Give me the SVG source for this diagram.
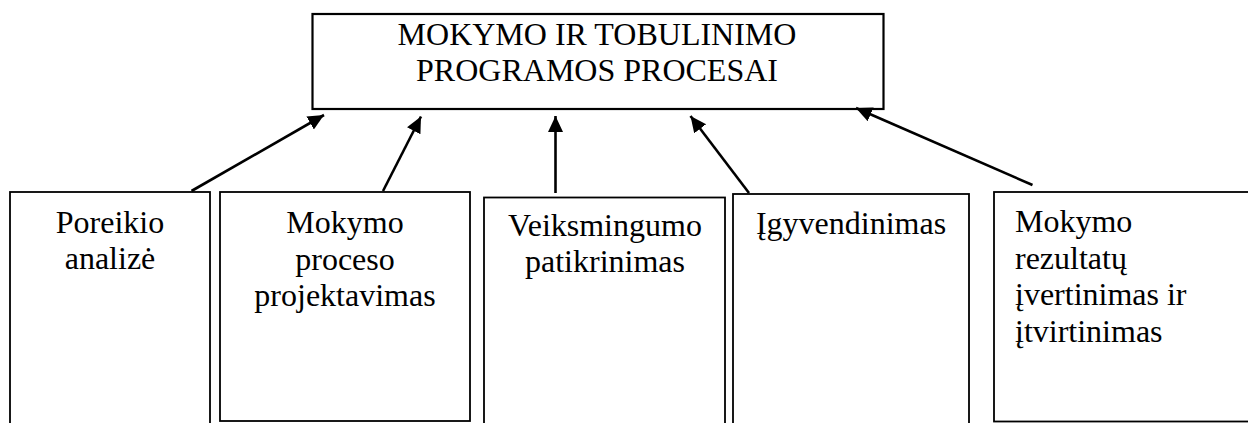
<svg xmlns="http://www.w3.org/2000/svg" width="1248" height="423" viewBox="0 0 1248 423">
<style>
  .box { fill: #ffffff; stroke: #000000; stroke-width: 2.2; }
  .sbox { fill: #ffffff; stroke: #000000; stroke-width: 1.8; }
  .t { font-family: 'Liberation Serif', 'Times New Roman', serif; font-size: 32px; fill: #000000; }
  .c { text-anchor: middle; }
  .conn { stroke: #000000; stroke-width: 2.6; fill: none; marker-end: url(#ah); }
</style>
<defs>
  <marker id="ah" markerUnits="userSpaceOnUse" markerWidth="18" markerHeight="17" refX="16" refY="7.5" orient="auto">
    <path d="M0,0 L16,7.5 L0,15 z" fill="#000000"/>
  </marker>
</defs>
<rect width="1248" height="423" fill="#ffffff"/>
<g id="top">
  <rect class="box" x="312.5" y="14" width="571" height="95"/>
  <text class="t c" x="597" y="45">MOKYMO IR TOBULINIMO</text>
  <text class="t c" x="597" y="81">PROGRAMOS PROCESAI</text>
</g>
<g id="n1">
  <rect class="sbox" x="10" y="192" width="200" height="240"/>
  <text class="t c" x="110" y="233">Poreikio</text>
  <text class="t c" x="110" y="269">analizė</text>
</g>
<g id="n2">
  <rect class="sbox" x="220" y="192" width="250" height="229"/>
  <text class="t c" x="345" y="233">Mokymo</text>
  <text class="t c" x="345" y="269.5">proceso</text>
  <text class="t c" x="345" y="306">projektavimas</text>
</g>
<g id="n3">
  <rect class="sbox" x="484" y="197.5" width="241" height="240"/>
  <text class="t c" x="605" y="236">Veiksmingumo</text>
  <text class="t c" x="605" y="272">patikrinimas</text>
</g>
<g id="n4">
  <rect class="sbox" x="733" y="194" width="236" height="240"/>
  <text class="t c" x="851" y="234">Įgyvendinimas</text>
</g>
<g id="n5">
  <rect class="sbox" x="994" y="192" width="260" height="229.5"/>
  <text class="t" x="1015" y="232">Mokymo</text>
  <text class="t" x="1015" y="268.5">rezultatų</text>
  <text class="t" x="1015" y="305">įvertinimas ir</text>
  <text class="t" x="1015" y="341.5">įtvirtinimas</text>
</g>
<g id="connectors">
  <line class="conn" x1="191.5" y1="191" x2="324" y2="115"/>
  <line class="conn" x1="383" y1="191" x2="421" y2="116.5"/>
  <line class="conn" x1="555.5" y1="193" x2="555.5" y2="116"/>
  <line class="conn" x1="749" y1="193" x2="690.5" y2="116"/>
  <line class="conn" x1="1032.5" y1="185" x2="856" y2="108"/>
</g>
</svg>
